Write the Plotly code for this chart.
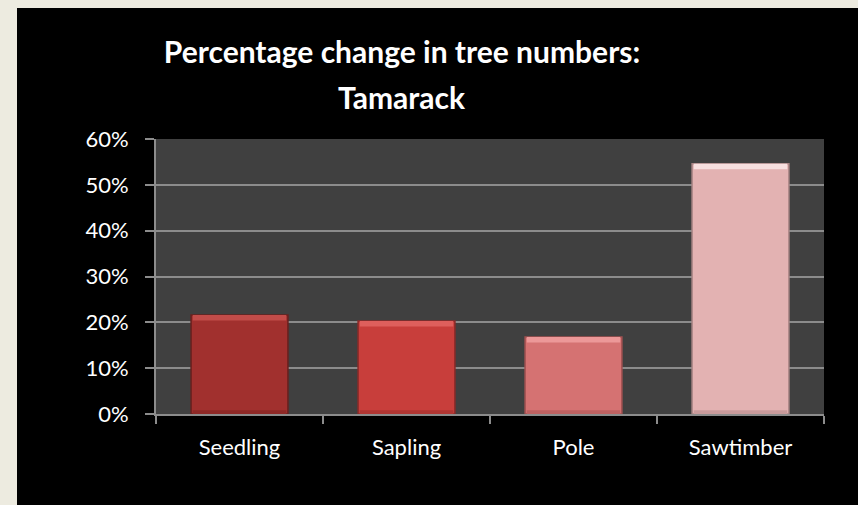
import plotly.graph_objects as go

categories = ["Seedling", "Sapling", "Pole", "Sawtimber"]
values = [0.216, 0.203, 0.168, 0.546]
bar_colors = ["#A1302E", "#C83E3B", "#D57272", "#E3B2B2"]
highlight_colors = ["#C24C49", "#DE5F5C", "#EC9898", "#F8E0E0"]
shade_colors = ["#8E2826", "#B03532", "#BE6161", "#C89A9B"]
edge_colors = ["#6A201E", "#8A2A28", "#A05050", "#A88484"]
y_ticks = [0, 0.1, 0.2, 0.3, 0.4, 0.5, 0.6]
title_line1 = "Percentage change in tree numbers:"
title_line2 = "Tamarack"
highlight_depth = 0.012
shade_depth = 0.008

OX, OY = 17, 8
W, H = 858 - OX, 505 - OY
L, R, T, B = 156 - OX, 34, 139 - OY, 91

fig = go.Figure()
fig.add_trace(go.Bar(
    x=categories, y=values,
    marker=dict(color=bar_colors, line=dict(color=edge_colors, width=1.5)),
    width=0.58, hoverinfo="skip",
))
fig.add_trace(go.Bar(
    x=categories, y=[highlight_depth] * len(values),
    base=[v - highlight_depth for v in values],
    marker=dict(color=highlight_colors, line=dict(width=0)),
    width=0.56, hoverinfo="skip",
))
fig.add_trace(go.Bar(
    x=categories, y=[shade_depth] * len(values),
    marker=dict(color=shade_colors, line=dict(width=0)),
    width=0.56, hoverinfo="skip",
))

fig.add_annotation(text=title_line2, xref="paper", yref="paper",
                   x=(402 - 156) / (W - L - R), xanchor="center",
                   y=(H - (97 - OY) - B) / (H - T - B), yanchor="middle",
                   showarrow=False,
                   font=dict(family="Lato", size=30, color="#FFFFFF", weight="bold"))

fig.update_layout(
    width=W, height=H,
    margin=dict(l=L, r=R, t=T, b=B),
    paper_bgcolor="#000000",
    plot_bgcolor="#404040",
    barmode="overlay",
    showlegend=False,
    title=dict(text=title_line1, x=(402 - OX) / W, xanchor="center",
               y=1 - (52 - OY) / H, yanchor="middle",
               font=dict(family="Lato", size=30, color="#FFFFFF", weight="bold")),
    font=dict(family="Lato", color="#FFFFFF", size=22),
    xaxis=dict(showline=True, linecolor="#8C8C8C", linewidth=2,
               ticks="outside", tickson="boundaries", ticklen=8, tickcolor="#8C8C8C", tickwidth=2,
               tickfont=dict(size=22, color="#FFFFFF"), showgrid=False,
               ticklabelstandoff=13),
    yaxis=dict(range=[0, 0.6], tickvals=y_ticks, tickformat=".0%",
               showline=True, linecolor="#8C8C8C", linewidth=2,
               ticks="outside", ticklen=9, tickcolor="#8C8C8C", tickwidth=2,
               gridcolor="#8C8C8C", gridwidth=2, zeroline=False,
               tickfont=dict(size=22, color="#FFFFFF"), ticklabelstandoff=12),
)

fig.write_html("out.html", config={"displayModeBar": False},
               post_script="document.body.style.margin='8px 0 0 17px';"
                           "document.body.style.background='#EDEBE0';")
